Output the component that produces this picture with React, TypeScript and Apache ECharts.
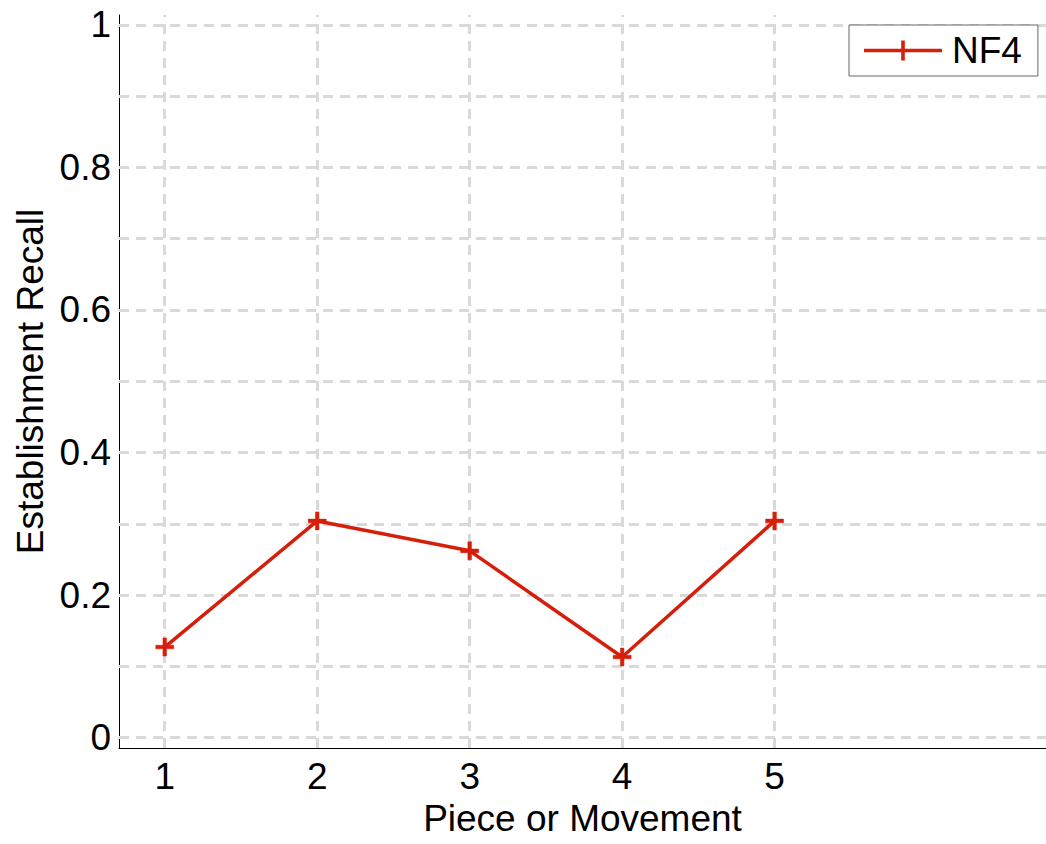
import React, { useEffect, useRef } from "react";
import * as echarts from "echarts";

const pieces = [1, 2, 3, 4, 5];
const nf4Recall = [0.127, 0.304, 0.262, 0.113, 0.304];
const yTickLabels = [0, 0.2, 0.4, 0.6, 0.8, 1];
const yGridValues = [0, 0.1, 0.2, 0.3, 0.4, 0.5, 0.6, 0.7, 0.8, 0.9, 1];
const xGridValues = [1, 2, 3, 4, 5];

const FONT = "'Liberation Sans', Arial, Helvetica, sans-serif";
const RED = "#d61f0b";
const PLUS = "path://M4,0h2v4h4v2h-4v4h-2v-4h-4v-2h4z";
const LEGEND_ICON =
  "path://M0,8.2h37.2v-8.2h3.6v8.2h37.2v3.6h-37.2v8.2h-3.6v-8.2h-37.2z";

export default function App() {
  const ref = useRef<HTMLDivElement>(null);
  useEffect(() => {
    if (!ref.current) return;
    const chart = echarts.init(ref.current, null, { renderer: "svg" });
    const seriesData = pieces.map((p, i) => [p, nf4Recall[i]]);
    chart.setOption({
      animation: false,
      backgroundColor: "#ffffff",
      grid: { left: 119, right: 0, top: 15, bottom: 96, containLabel: false },
      legend: {
        data: [{ name: "NF4", icon: LEGEND_ICON, itemStyle: { color: RED, borderWidth: 0 } }],
        left: 849,
        top: 25,
        orient: "horizontal",
        backgroundColor: "#ffffff",
        borderColor: "#666666",
        borderWidth: 1,
        borderRadius: 0,
        padding: [7, 16, 7, 15],
        itemWidth: 78,
        itemHeight: 20,
        z: 20,
        textStyle: { fontFamily: FONT, fontSize: 37, color: "#000", padding: [0, 0, 0, 5] },
      },
      xAxis: {
        type: "value",
        min: 0.7,
        max: 6.78,
        name: "Piece or Movement",
        nameLocation: "middle",
        nameGap: 34,
        nameTextStyle: { fontFamily: FONT, fontSize: 37, color: "#000" },
        axisLine: { show: true, onZero: false, lineStyle: { color: "#000", width: 1 } },
        axisTick: { show: false },
        splitLine: { show: false },
        axisLabel: {
          customValues: pieces,
          fontFamily: FONT,
          fontSize: 37,
          color: "#000",
          margin: 10,
        },
      },
      yAxis: {
        type: "value",
        min: -0.0147,
        max: 1.014,
        name: "Establishment Recall",
        nameLocation: "middle",
        nameGap: 66,
        nameTextStyle: { fontFamily: FONT, fontSize: 37, color: "#000" },
        axisLine: { show: true, onZero: false, lineStyle: { color: "#000", width: 1 } },
        axisTick: { show: false },
        splitLine: { show: false },
        axisLabel: {
          customValues: yTickLabels,
          fontFamily: FONT,
          fontSize: 37,
          color: "#000",
          margin: 8,
          formatter: (v: number) => String(Math.round(v * 10) / 10),
        },
      },
      series: [
        {
          name: "grid",
          type: "line",
          data: seriesData,
          symbol: "none",
          lineStyle: { opacity: 0 },
          silent: true,
          z: 1,
          markLine: {
            z: 1,
            silent: true,
            symbol: ["none", "none"],
            label: { show: false },
            lineStyle: { color: "#d9d9d9", width: 3, type: [10, 7] },
            emphasis: { disabled: true },
            data: [
              ...yGridValues.map((v) => ({ yAxis: v })),
              ...xGridValues.map((v) => ({ xAxis: v })),
            ],
          },
        },
        {
          name: "NF4",
          type: "line",
          data: seriesData,
          z: 10,
          symbol: PLUS,
          symbolSize: 18,
          showAllSymbol: true,
          itemStyle: { color: RED, borderColor: RED, borderWidth: 0.5, opacity: 1 },
          lineStyle: { color: RED, width: 3.5 },
        },
      ],
    });
    return () => chart.dispose();
  }, []);
  return (
    <div
      ref={ref}
      style={{ position: "fixed", left: 0, top: 0, width: 1046, height: 844, background: "#fff" }}
    />
  );
}
